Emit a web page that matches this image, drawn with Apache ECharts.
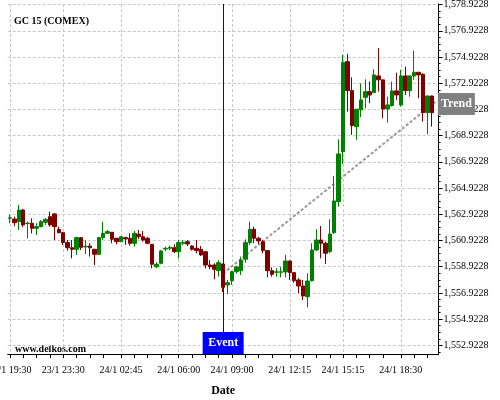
<!DOCTYPE html>
<html><head><meta charset="utf-8">
<script src="https://cdn.jsdelivr.net/npm/echarts@6/dist/echarts.min.js"></script>
<style>html,body{margin:0;padding:0;background:#fff}#c{width:500px;height:400px}</style>
</head><body><div id="c"></div>
<script>
// ---- tick labels / categories ----
function buildTimes(){
  const out=[];
  const segs=[['23/1',19*60+30,10],['23/1',23*60,4],['24/1',0,83]];
  for(const [d,start,n] of segs){
    for(let k=0;k<n;k++){const m=start+15*k;const h=Math.floor(m/60),mm=m%60;
      out.push(d+' '+String(h).padStart(2,'0')+':'+String(mm).padStart(2,'0'));}
  }
  return out;
}
const times = buildTimes(); // 97 slots, last one empty
const labelIdx = [0,12,25,38,50,63,75,88];
const tickIdx = [0,3,6,9,12,15,18,21,25,28,31,34,38,41,44,47,50,53,56,59,63,66,69,72,75,78,81,84,88,91,94];
const yTicks = [1552.9228,1554.9228,1556.9228,1558.9228,1560.9228,1562.9228,1564.9228,1566.9228,1568.9228,1570.9228,1572.9228,1574.9228,1576.9228,1578.9228];
const yMin = 1552.26, yMax = 1578.97;

// ---- candle values ----
const opens = [1562.62,1562.56,1562.36,1563.25,1562.22,1562.24,1561.85,1561.98,1562.31,1562.74,
1562.95,1561.78,1561.52,1560.76,1560.37,1560.25,1561.14,1560.43,1560.50,1560.25,
1559.87,1561.14,1561.47,1561.55,1561.09,1560.83,1561.14,1561.09,1560.71,1561.40,
1561.21,1561.09,1560.63,1558.92,1559.18,1560.27,1560.33,1560.37,1560.07,1560.71,
1560.83,1560.50,1560.33,1560.25,1560.07,1559.05,1559.05,1558.62,1559.13,1557.53,
1557.85,1558.54,1558.62,1559.49,1560.76,1561.78,1561.09,1560.83,1560.15,1558.62,
1558.50,1558.50,1558.52,1559.36,1558.47,1557.91,1557.45,1556.63,1557.85,1560.20,
1560.96,1560.71,1560.07,1561.52,1563.88,1567.70,1574.57,1572.36,1569.61,1570.89,
1571.85,1572.28,1572.21,1573.48,1573.18,1570.96,1571.21,1572.34,1571.27,1573.48,
1572.36,1573.48,1573.76,1573.61,1570.68,1571.95];
const closes = [1562.66,1562.28,1563.25,1562.11,1562.25,1561.85,1561.98,1562.36,1562.54,1562.11,
1561.98,1561.52,1560.76,1560.37,1560.25,1561.14,1560.40,1560.48,1560.37,1559.87,
1561.14,1561.47,1561.60,1561.02,1560.83,1561.21,1561.04,1560.71,1561.47,1561.21,
1560.96,1560.71,1559.11,1559.11,1560.12,1560.33,1560.40,1560.07,1560.76,1560.76,
1560.66,1560.25,1560.15,1559.82,1559.05,1558.92,1558.72,1559.23,1557.35,1557.70,
1558.54,1558.90,1559.43,1560.76,1561.78,1561.09,1560.89,1560.15,1558.62,1558.34,
1558.53,1558.53,1559.36,1558.47,1557.85,1557.45,1556.69,1557.83,1560.20,1560.96,
1560.71,1559.95,1561.42,1563.94,1567.53,1574.50,1572.36,1569.69,1570.94,1571.65,
1572.28,1572.03,1573.56,1573.18,1570.96,1571.27,1572.34,1572.03,1573.48,1572.36,
1573.48,1573.76,1573.56,1570.68,1571.95,1570.68];
const highs = [1562.87,1562.74,1563.63,1563.33,1562.36,1562.62,1562.24,1562.49,1562.62,1563.12,
1563.02,1561.98,1561.57,1560.96,1560.96,1561.21,1561.19,1560.96,1560.71,1560.27,
1561.19,1562.36,1561.72,1561.57,1561.11,1561.27,1561.21,1561.47,1561.65,1561.72,
1561.65,1561.21,1560.66,1559.26,1560.20,1560.45,1560.53,1560.63,1560.96,1560.96,
1560.96,1560.54,1560.96,1560.50,1560.10,1559.43,1559.18,1559.43,1559.15,1557.91,
1558.62,1559.00,1559.69,1561.02,1562.36,1561.98,1561.21,1560.96,1560.15,1558.88,
1558.80,1558.92,1559.82,1559.39,1558.50,1558.04,1557.91,1558.42,1560.71,1561.78,
1562.03,1560.83,1562.54,1565.85,1568.65,1575.08,1575.16,1573.38,1570.96,1572.92,
1573.23,1573.05,1573.99,1575.60,1573.18,1571.90,1573.05,1573.73,1573.94,1574.19,
1573.50,1575.41,1573.79,1573.69,1571.98,1571.98];
const lows = [1562.24,1562.03,1561.72,1561.93,1561.09,1561.47,1561.34,1561.92,1562.11,1561.98,
1560.96,1561.47,1560.58,1560.15,1559.56,1559.82,1560.20,1559.89,1559.69,1559.05,
1559.82,1560.96,1561.42,1560.71,1560.63,1560.79,1560.58,1560.53,1560.45,1561.04,
1560.83,1560.63,1558.80,1558.80,1559.11,1560.12,1560.20,1559.95,1559.56,1560.58,
1560.50,1560.15,1559.95,1559.74,1558.80,1558.72,1557.96,1558.16,1556.99,1556.84,
1557.53,1558.40,1558.29,1559.23,1560.58,1560.71,1560.66,1559.95,1558.11,1558.16,
1558.16,1558.11,1558.11,1557.91,1557.70,1556.89,1556.38,1555.82,1557.78,1560.15,
1559.56,1559.13,1559.95,1561.42,1563.50,1566.76,1570.76,1568.98,1568.60,1570.33,
1571.01,1571.40,1572.16,1572.28,1570.25,1569.92,1571.14,1571.65,1571.14,1572.03,
1571.90,1573.18,1571.78,1569.99,1569.03,1569.61];

// ---- annotations ----
const eventIdx = 48;
const trendStartIdx = 48, trendStart = 1558.41;
const trendEndIdx = 96, trendEnd = 1571.56;

const candleData = opens.map((o,i)=>[o, closes[i], lows[i], highs[i]]);
const trendData = times.map((_,i)=> i===trendStartIdx ? trendStart : (i===trendEndIdx ? trendEnd : '-'));
const minorTicks = [];
yTicks.forEach(t=>{[-0.5,0.5,1,1.5].forEach(d=>{const v=+(t+d).toFixed(4); if(v>yMin&&v<yMax&&minorTicks.indexOf(v)<0) minorTicks.push(v);});});

const SERIF = 'Liberation Serif, Times New Roman, serif';
const fmt = v => { const s = Number(v).toFixed(4); return s.slice(0,1)+','+s.slice(1); };
const labelSet = new Set(labelIdx), tickSet = new Set(tickIdx);

const chart = echarts.init(document.getElementById('c'), null, {renderer:'canvas'});
chart.setOption({
  animation:false,
  backgroundColor:'#fff',
  title:{text:'GC 15 (COMEX)', left:9, top:11, textStyle:{fontFamily:SERIF, fontSize:10, fontWeight:'bold', color:'#000'}},
  grid:{left:7.7, right:61.4, top:4, bottom:46, containLabel:false, outerBoundsMode:'none'},
  graphic:[{type:'text', left:15, top:344, style:{text:'www.delkos.com', font:'bold 10px '+SERIF, fill:'#000'}}],
  xAxis:{
    type:'category', data:times, boundaryGap:true,
    name:'Date', nameLocation:'middle', nameGap:31,
    nameTextStyle:{fontFamily:SERIF, fontSize:12, fontWeight:'bold', color:'#000'},
    axisLine:{show:true, onZero:false, lineStyle:{color:'#000', width:1}},
    axisTick:{show:true, alignWithLabel:true, length:4, interval:(i)=>tickSet.has(i), lineStyle:{color:'#000'}},
    axisLabel:{interval:(i)=>labelSet.has(i), margin:11, fontFamily:SERIF, fontSize:10, color:'#000', hideOverlap:false},
    splitLine:{show:true, alignWithLabel:true, interval:(i)=>labelSet.has(i), lineStyle:{color:'#c8c8c8', type:[3,2], width:1}}
  },
  yAxis:[{
    type:'value', position:'right', min:yMin, max:yMax, scale:true,
    axisLine:{show:true, lineStyle:{color:'#000', width:1}},
    axisTick:{show:true, length:4, customValues:yTicks, lineStyle:{color:'#000'}},
    axisLabel:{customValues:yTicks, formatter:fmt, margin:5, fontFamily:SERIF, fontSize:10, color:'#000'},
    splitLine:{show:true, lineStyle:{color:'#c8c8c8', type:[3,2], width:1}}
  },{
    type:'value', position:'right', min:yMin, max:yMax, scale:true,
    axisLine:{show:false},
    axisTick:{show:true, length:2, customValues:minorTicks, lineStyle:{color:'#000'}},
    axisLabel:{show:false}, splitLine:{show:false}
  }],
  series:[{
    type:'line', data:trendData, connectNulls:true, symbol:'none', z:1,
    lineStyle:{color:'#999', width:2, type:[3,2]}, silent:true
  },{
    type:'candlestick', data:candleData, barWidth:4, z:2,
    itemStyle:{color:'#008000', color0:'#800000', borderColor:'#008000', borderColor0:'#800000', borderWidth:1},
    markLine:{silent:true, symbol:['none','none'], label:{show:false},
      lineStyle:{color:'#0000c8', width:1, type:'solid'}, data:[{xAxis:eventIdx}]},
    markPoint:{silent:true, data:[
      {coord:[eventIdx, yMin], symbol:'rect', symbolSize:[41,22], symbolOffset:[0,-11],
       itemStyle:{color:'#0000ff'}, label:{show:true, position:'inside', formatter:'Event', color:'#fff', fontFamily:SERIF, fontSize:12, fontWeight:'bold'}},
      {coord:[trendEndIdx, trendEnd], symbol:'rect', symbolSize:[37,22], symbolOffset:[20,3],
       itemStyle:{color:'#808080'}, label:{show:true, position:'inside', formatter:'Trend', color:'#fff', fontFamily:SERIF, fontSize:12, fontWeight:'bold'}}
    ]}
  }]
});
</script></body></html>
